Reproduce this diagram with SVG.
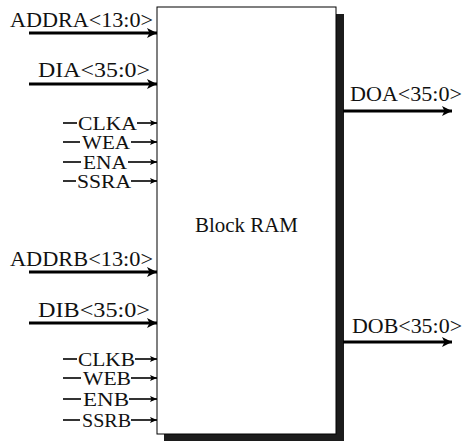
<svg xmlns="http://www.w3.org/2000/svg" width="463" height="445" viewBox="0 0 463 445">
<style>
.t{font-family:"Liberation Serif","Times New Roman",serif;fill:#111}
.big{font-size:21px}
.sm{font-size:18px}
.bus{stroke:#000;stroke-width:3.2;fill:none}
.sig{stroke:#000;stroke-width:1.6;fill:none}
</style>
<defs>
<marker id="ah" markerUnits="userSpaceOnUse" markerWidth="12" markerHeight="12" refX="10" refY="6" orient="auto">
<path d="M0,1 L10,6 L0,11 L2.5,6 Z" fill="#000"/>
</marker>
<marker id="as" markerUnits="userSpaceOnUse" markerWidth="8" markerHeight="8" refX="7" refY="4" orient="auto">
<path d="M0,1 L7,4 L0,7 L1.5,4 Z" fill="#000"/>
</marker>
</defs>
<g id="block-ram">
<rect x="164" y="14" width="180" height="427" fill="#1c1c1c"/>
<rect x="157" y="7" width="179" height="427" fill="#fff" stroke="#000" stroke-width="1"/>
<text class="t" x="195" y="232" font-size="20" textLength="103" lengthAdjust="spacingAndGlyphs">Block RAM</text>
</g>
<g id="connectors">
<line class="bus" x1="29" y1="33" x2="157" y2="33" marker-end="url(#ah)"/>
<line class="bus" x1="29" y1="84" x2="157" y2="84" marker-end="url(#ah)"/>
<line class="bus" x1="29" y1="272" x2="157" y2="272" marker-end="url(#ah)"/>
<line class="bus" x1="29" y1="323" x2="157" y2="323" marker-end="url(#ah)"/>
<line class="bus" x1="343" y1="111" x2="452" y2="111" marker-end="url(#ah)"/>
<line class="bus" x1="343" y1="342" x2="452" y2="342" marker-end="url(#ah)"/>
<line class="sig" x1="63" y1="123" x2="77" y2="123"/>
<line class="sig" x1="137" y1="123" x2="157" y2="123" marker-end="url(#as)"/>
<line class="sig" x1="63" y1="142" x2="80" y2="142"/>
<line class="sig" x1="131" y1="142" x2="157" y2="142" marker-end="url(#as)"/>
<line class="sig" x1="63" y1="162" x2="81" y2="162"/>
<line class="sig" x1="128" y1="162" x2="157" y2="162" marker-end="url(#as)"/>
<line class="sig" x1="63" y1="181" x2="76" y2="181"/>
<line class="sig" x1="131" y1="181" x2="157" y2="181" marker-end="url(#as)"/>
<line class="sig" x1="63" y1="359" x2="77" y2="359"/>
<line class="sig" x1="135" y1="359" x2="157" y2="359" marker-end="url(#as)"/>
<line class="sig" x1="63" y1="378" x2="81" y2="378"/>
<line class="sig" x1="131" y1="378" x2="157" y2="378" marker-end="url(#as)"/>
<line class="sig" x1="63" y1="399" x2="81" y2="399"/>
<line class="sig" x1="129" y1="399" x2="157" y2="399" marker-end="url(#as)"/>
<line class="sig" x1="63" y1="420" x2="80" y2="420"/>
<line class="sig" x1="131" y1="420" x2="157" y2="420" marker-end="url(#as)"/>
</g>
<g id="labels">
<text class="t big" x="10" y="27" textLength="143" lengthAdjust="spacingAndGlyphs">ADDRA&lt;13:0&gt;</text>
<text class="t big" x="38" y="77" textLength="112" lengthAdjust="spacingAndGlyphs">DIA&lt;35:0&gt;</text>
<text class="t big" x="10" y="266" textLength="143" lengthAdjust="spacingAndGlyphs">ADDRB&lt;13:0&gt;</text>
<text class="t big" x="38" y="317" textLength="112" lengthAdjust="spacingAndGlyphs">DIB&lt;35:0&gt;</text>
<text class="t big" x="350" y="101" textLength="112" lengthAdjust="spacingAndGlyphs">DOA&lt;35:0&gt;</text>
<text class="t big" x="352" y="333" textLength="110" lengthAdjust="spacingAndGlyphs">DOB&lt;35:0&gt;</text>
<text class="t sm" x="78" y="130" textLength="59" lengthAdjust="spacingAndGlyphs">CLKA</text>
<text class="t sm" x="82" y="149" textLength="48" lengthAdjust="spacingAndGlyphs">WEA</text>
<text class="t sm" x="83" y="169" textLength="44" lengthAdjust="spacingAndGlyphs">ENA</text>
<text class="t sm" x="77" y="188" textLength="54" lengthAdjust="spacingAndGlyphs">SSRA</text>
<text class="t sm" x="78" y="366" textLength="57" lengthAdjust="spacingAndGlyphs">CLKB</text>
<text class="t sm" x="83" y="385" textLength="48" lengthAdjust="spacingAndGlyphs">WEB</text>
<text class="t sm" x="83" y="406" textLength="46" lengthAdjust="spacingAndGlyphs">ENB</text>
<text class="t sm" x="82" y="427" textLength="49" lengthAdjust="spacingAndGlyphs">SSRB</text>
</g>
</svg>
